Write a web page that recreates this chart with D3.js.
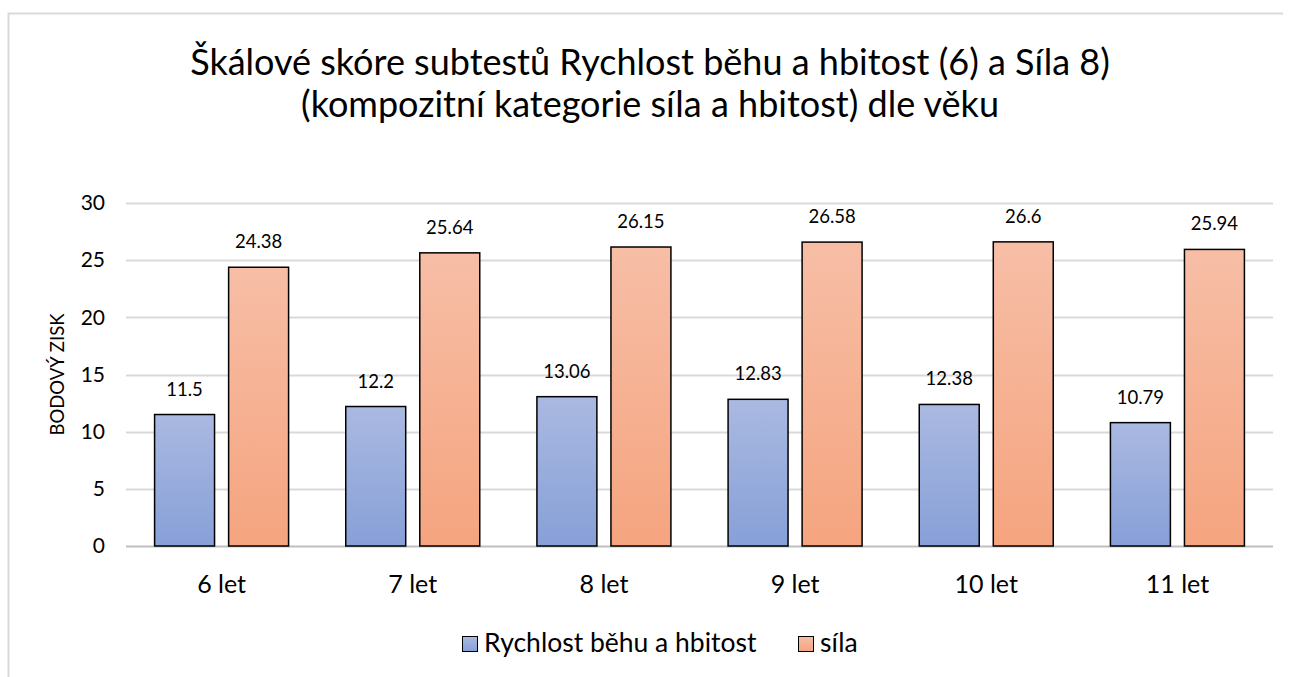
<!DOCTYPE html>
<html>
<head>
<meta charset="utf-8">
<script src="https://cdn.jsdelivr.net/npm/d3@7"></script>
<style>
  body { margin: 0; background: #fff; }
  text { font-family: "Lato", "Open Sans", sans-serif; fill: #000; }
</style>
</head>
<body>
<svg id="chart"></svg>
<script>
// chart data
var categories = ["6 let", "7 let", "8 let", "9 let", "10 let", "11 let"];
var seriesNames = ["Rychlost běhu a hbitost", "síla"];
var rychlost = [11.5, 12.2, 13.06, 12.83, 12.38, 10.79];
var sila = [24.38, 25.64, 26.15, 26.58, 26.6, 25.94];
var yTicks = [0, 5, 10, 15, 20, 25, 30];
var titleLines = ["Škálové skóre subtestů Rychlost běhu a hbitost (6) a Síla 8)",
                  "(kompozitní kategorie síla a hbitost) dle věku"];

var width = 1291, height = 677;
var margin = {top: 203, right: 18, bottom: 131, left: 126};

var svg = d3.select("#chart")
    .attr("width", width)
    .attr("height", height);

// gradients like the office fill
var defs = svg.append("defs");
function gradient(id, top, bottom) {
    var g = defs.append("linearGradient")
        .attr("id", id)
        .attr("x1", 0).attr("y1", 0).attr("x2", 0).attr("y2", 1);
    g.append("stop").attr("offset", "0%").attr("stop-color", top);
    g.append("stop").attr("offset", "100%").attr("stop-color", bottom);
}
gradient("gradBlue", "#aab9e1", "#87a0d8");
gradient("gradOrange", "#f7bea6", "#f5a47f");
var fills = ["url(#gradBlue)", "url(#gradOrange)"];

// outer frame (left and top edges visible)
svg.append("path")
    .attr("d", "M8.5," + height + " V13.5 H" + (width - 8))
    .attr("fill", "none")
    .attr("stroke", "#d9d9d9")
    .attr("stroke-width", 2);

// title
svg.append("text")
    .attr("text-anchor", "middle")
    .style("font-size", "36px")
    .selectAll("tspan")
    .data(titleLines)
    .enter().append("tspan")
    .attr("x", 650)
    .attr("y", function(d, i) { return 75 + i * 42; })
    .text(function(d) { return d; });

var plotW = width - margin.left - margin.right;
var plotH = height - margin.top - margin.bottom;

var x = d3.scaleBand()
    .domain(categories)
    .range([margin.left, margin.left + plotW]);

var x1 = d3.scaleBand()
    .domain([0, 1])
    .range([-67, 67])
    .paddingInner(0.19);

var y = d3.scaleLinear()
    .domain([0, 30])
    .range([margin.top + plotH, margin.top]);

// gridlines
svg.append("g")
    .selectAll("line")
    .data(yTicks)
    .enter().append("line")
    .attr("x1", margin.left)
    .attr("x2", margin.left + plotW)
    .attr("y1", function(d) { return Math.round(y(d)) + 0.5; })
    .attr("y2", function(d) { return Math.round(y(d)) + 0.5; })
    .attr("stroke", function(d) { return d === 0 ? "#bfbfbf" : "#d9d9d9"; })
    .attr("stroke-width", 2);

// y axis labels
var yAxis = d3.axisLeft(y).tickValues(yTicks).tickSize(0).tickPadding(21);
var yg = svg.append("g")
    .attr("transform", "translate(" + margin.left + ",0)")
    .call(yAxis);
yg.select(".domain").remove();
yg.selectAll("text").style("font-size", "21px").attr("fill", "#000");

// x axis labels
var xAxis = d3.axisBottom(x).tickSize(0).tickPadding(29);
var xg = svg.append("g")
    .attr("transform", "translate(0," + (margin.top + plotH) + ")")
    .call(xAxis);
xg.select(".domain").remove();
xg.selectAll("text").style("font-size", "25px").attr("fill", "#000");

// y axis title
svg.append("text")
    .attr("transform", "translate(64," + (margin.top + plotH / 2) + ") rotate(-90)")
    .attr("text-anchor", "middle")
    .style("font-size", "18.5px")
    .text("BODOVÝ ZISK");

// bars
var rows = categories.map(function(c, i) {
    return {cat: c, values: [rychlost[i], sila[i]]};
});

var groups = svg.selectAll(".group")
    .data(rows)
    .enter().append("g")
    .attr("class", "group")
    .attr("transform", function(d) { return "translate(" + (x(d.cat) + x.bandwidth() / 2) + ",0)"; });

groups.selectAll("rect")
    .data(function(d) { return d.values; })
    .enter().append("rect")
    .attr("x", function(d, i) { return x1(i); })
    .attr("y", function(d) { return y(d); })
    .attr("width", x1.bandwidth())
    .attr("height", function(d) { return y(0) - y(d); })
    .attr("fill", function(d, i) { return fills[i]; })
    .attr("stroke", "#000")
    .attr("stroke-width", 1.5);

groups.selectAll(".lbl")
    .data(function(d) { return d.values; })
    .enter().append("text")
    .attr("class", "lbl")
    .attr("x", function(d, i) { return x1(i) + x1.bandwidth() / 2; })
    .attr("y", function(d) { return y(d) - 19; })
    .attr("text-anchor", "middle")
    .style("font-size", "18.5px")
    .text(function(d) { return d; });

// legend
var legend = svg.append("g").attr("transform", "translate(462,652)");
var legX = [0, 336];
seriesNames.forEach(function(name, i) {
    var g = legend.append("g").attr("transform", "translate(" + legX[i] + ",0)");
    g.append("rect")
        .attr("x", 0.5).attr("y", -15.5)
        .attr("width", 15).attr("height", 15)
        .attr("fill", fills[i])
        .attr("stroke", "#000")
        .attr("stroke-width", 1);
    g.append("text")
        .attr("x", 22)
        .attr("y", 0)
        .style("font-size", "26.5px")
        .text(name);
});
</script>
</body>
</html>
